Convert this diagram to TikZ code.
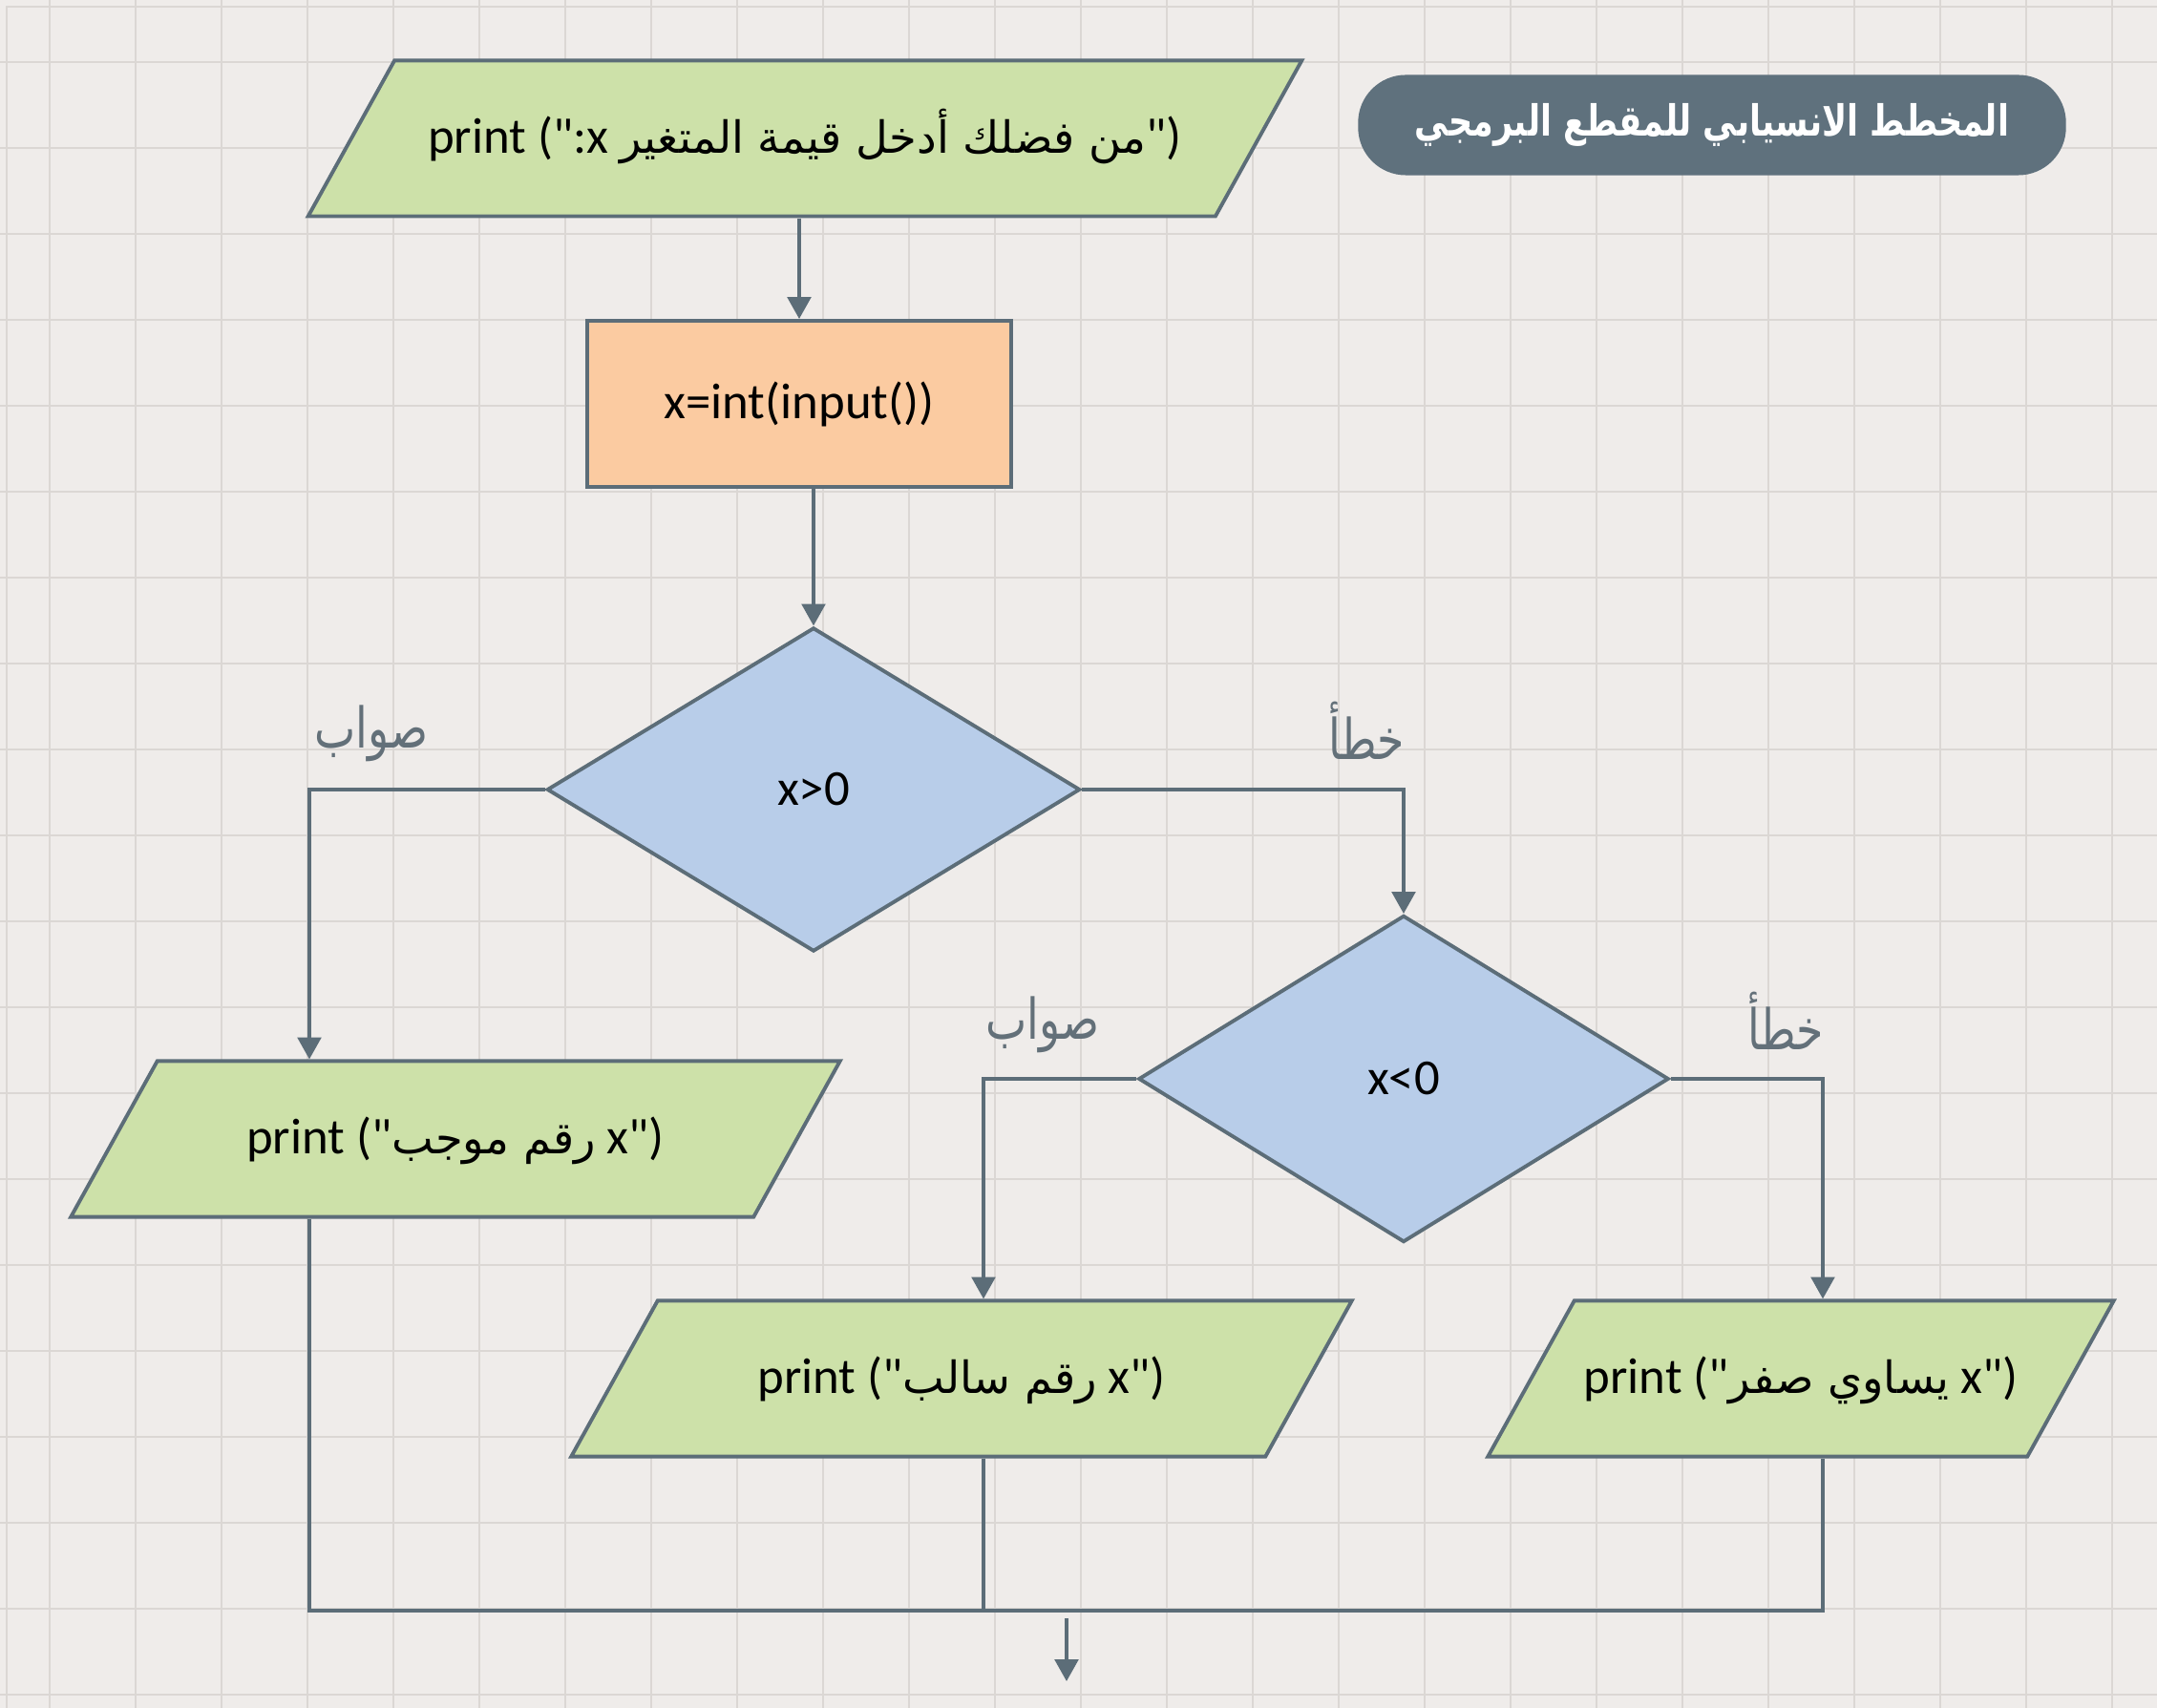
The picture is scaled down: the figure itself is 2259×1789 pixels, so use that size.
\documentclass[tikz,border=0pt]{standalone}
\usepackage{fontspec}
\usepackage{graphicx}
\setmainfont{Carlito}[Ligatures=TeXOff]
\newfontfamily\arabicfont[Script=Arabic,Scale=0.88]{DejaVu Sans}
\TeXXeTstate=1
\usetikzlibrary{arrows.meta,calc,positioning,shapes.geometric}
\usepackage{xcolor}
\definecolor{paper}{HTML}{EFECEA}
\definecolor{gridln}{HTML}{DBD7D4}
\definecolor{ink}{HTML}{5C6D78}
\definecolor{leaf}{HTML}{CDE1A9}
\definecolor{peach}{HTML}{FBCBA1}
\definecolor{sky}{HTML}{B8CDE9}
\definecolor{slate}{HTML}{5F717D}
\definecolor{tag}{HTML}{637079}
\newcommand{\artext}[1]{{\arabicfont\beginR #1\endR}}
\newcommand{\artnarrow}[1]{\scalebox{0.78}[1]{\artext{#1}}}
\tikzset{
  txt/.style={font=\fontsize{15}{18}\selectfont},
  iobox/.style={trapezium,trapezium left angle=61,trapezium right angle=119,trapezium stretches body,
    draw=ink,line width=1.1pt,fill=leaf,text height=0.9cm,text depth=0.59cm,inner sep=2pt,txt},
  procbox/.style={rectangle,draw=ink,line width=1.1pt,fill=peach,minimum width=4.44cm,minimum height=1.74cm,txt},
  testbox/.style={diamond,draw=ink,line width=1.1pt,fill=sky,inner sep=1pt,txt},
  flow/.style={draw=ink,line width=1pt,-{Triangle[width=7pt,length=6.5pt]}},
  link/.style={draw=ink,line width=1pt},
  branchtag/.style={text=tag,font=\fontsize{19}{22}\selectfont},
}
\begin{document}
\begin{tikzpicture}[x=0.01cm,y=-0.01cm]
\useasboundingbox (0,0) rectangle (2259,1789);
\fill[paper] (0,0) rectangle (2259,1789);
\foreach \gx in {52,142,...,2212}{\draw[gridln,line width=0.8pt] (\gx,0) -- (\gx,1789);}
\foreach \gy in {65,155,...,1775}{\draw[gridln,line width=0.8pt] (0,\gy) -- (2259,\gy);}
\draw[gridln,line width=0.8pt] (7,1789) -- (7,7) -- (2259,7);
% title
\node[fill=slate,rounded corners=0.5cm,minimum width=7.41cm,minimum height=1.05cm,text=white,
  font=\fontsize{14.5}{17}\selectfont\bfseries] (title) at (1793,131) {\artnarrow{المخطط الانسيابي للمقطع البرمجي}};
% shapes
\node[iobox,minimum width=10.4cm] (ask) at (843,145) {print (":x \artext{من فضلك أدخل قيمة المتغير}")};
\node[procbox] (readx) at (837,423) {x=int(input())};
\node[testbox,minimum width=5.58cm,minimum height=3.39cm] (gt) at (852,827) {x>0};
\node[testbox,minimum width=5.55cm,minimum height=3.42cm] (lt) at (1470,1130) {x<0};
\node[iobox,minimum width=8.05cm] (pos) at (477,1193) {print ("\artext{رقم موجب} x")};
\node[iobox,minimum width=8.17cm] (neg) at (1007,1444) {print ("\artext{رقم سالب} x")};
\node[iobox,minimum width=6.55cm] (zero) at (1886,1444) {print ("\artext{يساوي صفر} x")};
% branch labels
\node[branchtag] (yes1) at (389,768) {\artnarrow{صواب}};
\node[branchtag] (no1) at (1431,765) {\artnarrow{خطأ}};
\node[branchtag] (yes2) at (1092,1073) {\artnarrow{صواب}};
\node[branchtag] (no2) at (1870,1069) {\artnarrow{خطأ}};
% columns and merge point
\coordinate (colA) at (324,0);
\coordinate (colB) at (1030,0);
\coordinate (colC) at (1909,0);
\coordinate (merge) at (1117,1687);
\coordinate (exit) at (1117,1761);
% connectors
\draw[flow] (readx.north |- ask.south) -- (readx.north);
\draw[flow] (gt.north |- readx.south) -- (gt.north);
\draw[flow] (gt.west) -| (colA |- pos.north);
\draw[flow] (gt.east) -| (lt.north);
\draw[flow] (lt.west) -| (colB |- neg.north);
\draw[flow] (lt.east) -| (colC |- zero.north);
\draw[link] (colA |- pos.south) |- (colC |- merge) -- (colC |- zero.south);
\draw[link] (colB |- neg.south) -- (colB |- merge);
\draw[flow] ($(merge)+(0,8)$) -- (exit);
\end{tikzpicture}
\end{document}
